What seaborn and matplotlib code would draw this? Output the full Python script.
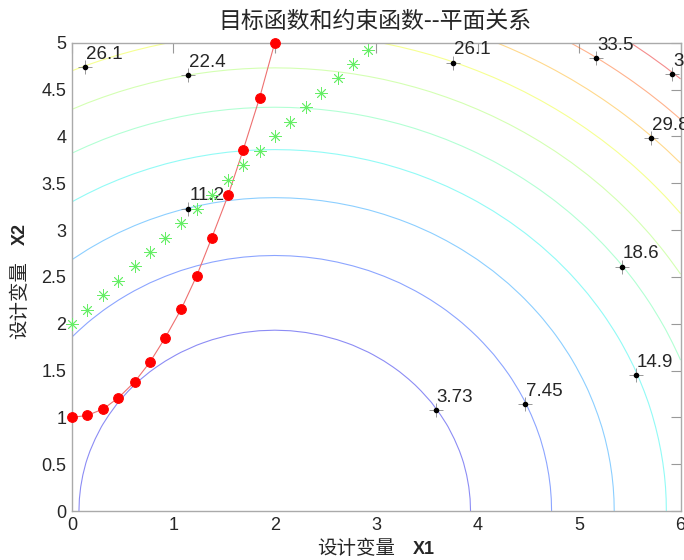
import numpy as np
import matplotlib
matplotlib.use('Agg')
import matplotlib.pyplot as plt
import seaborn as sns

# objective f(x1, x2) = (x1 - 2)^2 + x2^2 evaluated on a coarse design grid
x1_grid = np.linspace(0, 6, 40)
x2_grid = np.linspace(0, 5, 40)
levels = [3.73, 7.45, 11.2, 14.9, 18.6, 22.4, 26.1, 29.8, 33.5, 37.3]

# constraint curve 1 (red dots)
red_x1 = [0.0, 0.15, 0.31, 0.46, 0.62, 0.77, 0.92, 1.08, 1.23, 1.38, 1.54, 1.69, 1.85, 2.0]
red_x2 = [1.0, 1.02, 1.09, 1.21, 1.38, 1.59, 1.85, 2.16, 2.51, 2.92, 3.37, 3.86, 4.41, 5.0]

# constraint curve 2 (green stars)
green_x1 = [0.0, 0.15, 0.31, 0.46, 0.62, 0.77, 0.92, 1.08, 1.23, 1.38,
            1.54, 1.69, 1.85, 2.0, 2.15, 2.31, 2.46, 2.62, 2.77, 2.92]
green_x2 = [2.0, 2.15, 2.31, 2.46, 2.62, 2.77, 2.92, 3.08, 3.23, 3.38,
            3.54, 3.69, 3.85, 4.0, 4.15, 4.31, 4.46, 4.62, 4.77, 4.92]

# contour label positions and texts
label_x1 = [3.59, 4.47, 1.15, 5.56, 5.42, 1.15, 0.13, 3.76, 5.71, 5.17, 5.92]
label_x2 = [1.08, 1.14, 3.23, 1.45, 2.61, 4.66, 4.74, 4.79, 3.98, 4.84, 4.67]
label_txt = ['3.73', '7.45', '11.2', '14.9', '18.6', '22.4', '26.1', '26.1', '29.8', '33.5', '37.3']

sns.set_style('white')
plt.rcParams['font.family'] = ['Liberation Sans', 'Noto Sans CJK SC']
cjk = ['Noto Sans CJK SC', 'Liberation Sans']

X1, X2 = np.meshgrid(x1_grid, x2_grid)
F = (X1 - 2) ** 2 + X2 ** 2

fig = plt.figure(figsize=(6.84, 5.6), dpi=100)
ax = fig.add_axes([0.105, 0.0875, 0.890, 0.836])

norm = matplotlib.colors.Normalize(vmin=0, vmax=41)
line_colors = [plt.cm.jet(norm(v)) for v in levels]
ax.contour(X1, X2, F, levels=levels, colors=line_colors, linewidths=0.8, alpha=0.45)

# contour labels, MATLAB clabel style
ax.plot(label_x1, label_x2, linestyle='none', marker='+', markersize=10,
        markeredgewidth=0.6, color='#888888', clip_on=False, zorder=4)
ax.plot(label_x1, label_x2, linestyle='none', marker='o', markersize=3,
        color='black', clip_on=False, zorder=5)
for x, y, t in zip(label_x1, label_x2, label_txt):
    ax.annotate(t, (x, y), xytext=(0.5, 3), textcoords='offset points',
                ha='left', va='bottom', fontsize=13.5, annotation_clip=False)

sns.lineplot(x=red_x1, y=red_x2, ax=ax, color='#ee7070', linewidth=0.8,
             marker='o', markersize=7, markerfacecolor='red',
             markeredgecolor='red', sort=False, clip_on=False, zorder=6)
sns.scatterplot(x=green_x1, y=green_x2, ax=ax, marker=(8, 2, 0), s=70,
                color='#66ee66', linewidth=0.6, edgecolor='#66ee66',
                clip_on=False, zorder=6)

ax.set_xlim(0, 6)
ax.set_ylim(0, 5)
ax.set_xticks([0, 1, 2, 3, 4, 5, 6])
ax.set_yticks([0, 0.5, 1, 1.5, 2, 2.5, 3, 3.5, 4, 4.5, 5])
ax.set_yticklabels(['0', '0.5', '1', '1.5', '2', '2.5', '3', '3.5', '4', '4.5', '5'])
ax.tick_params(direction='in', length=7, width=0.8, color='#999999',
               labelsize=13, top=True, right=True, pad=4)
for s in ax.spines.values():
    s.set_color('#aaaaaa')
    s.set_linewidth(1.0)

fig.text(0.548, 1 - 21 / 560, '目标函数和约束函数--平面关系', ha='center', va='center',
         fontsize=16.5, family=cjk)
fig.text(356 / 684, 1 - 549 / 560, '设计变量', ha='center', va='center',
         fontsize=14, family=cjk)
fig.text(424 / 684, 1 - 549 / 560, 'X1', ha='center', va='center',
         fontsize=13, fontweight='bold')
fig.text(20 / 684, 1 - 300 / 560, '设计变量', ha='center', va='center',
         rotation=90, fontsize=14, family=cjk)
fig.text(20 / 684, 1 - 234 / 560, 'X2', ha='center', va='center',
         rotation=90, fontsize=13, fontweight='bold')

fig.savefig('out.png', dpi=100)
